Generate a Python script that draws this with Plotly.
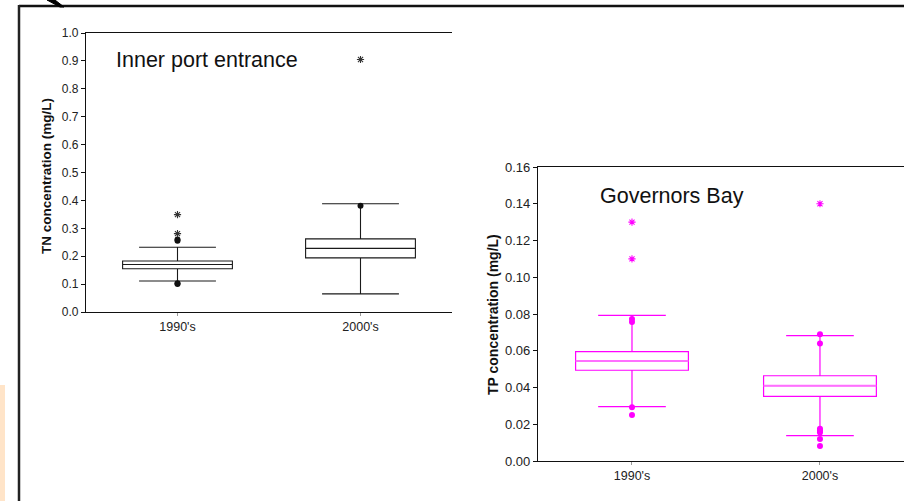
import plotly.graph_objects as go

W, H = 904, 501

periods = ["1990's", "2000's"]
period_pos = [0, 1]

# TN (Inner port entrance)
tn_q1 = [0.155, 0.194]
tn_median = [0.170, 0.228]
tn_q3 = [0.183, 0.262]
tn_lower = [0.111, 0.065]
tn_upper = [0.232, 0.388]
tn_dot_x = [0, 0, 0, 0, 1]
tn_dot_y = [0.255, 0.260, 0.103, 0.100, 0.381]
tn_star_x = [0, 0, 1]
tn_star_y = [0.349, 0.281, 0.905]

# TP (Governors Bay)
tp_q1 = [0.0494, 0.0352]
tp_median = [0.0544, 0.0410]
tp_q3 = [0.0595, 0.0464]
tp_lower = [0.0296, 0.0138]
tp_upper = [0.0793, 0.0682]
tp_dot_x = [0, 0, 0, 0, 1, 1, 1, 1, 1, 1, 1]
tp_dot_y = [0.0773, 0.0757, 0.0292, 0.0250, 0.0690, 0.0640, 0.0175, 0.0165, 0.0155, 0.0120, 0.0082]
tp_star_x = [0, 0, 1]
tp_star_y = [0.130, 0.110, 0.140]

BOX_WIDTH = 0.6
FONT = "Liberation Sans, Arial, sans-serif"
MAG = "#FF00FF"

fig = go.Figure()

# Left chart: TN
fig.add_trace(go.Box(x=period_pos, q1=tn_q1, median=tn_median, q3=tn_q3,
                     lowerfence=tn_lower, upperfence=tn_upper,
                     boxpoints=False, width=BOX_WIDTH, whiskerwidth=0.7,
                     fillcolor="white", line=dict(color="#1a1a1a", width=1.1),
                     xaxis="x", yaxis="y", showlegend=False, hoverinfo="skip"))
fig.add_trace(go.Scatter(x=tn_dot_x, y=tn_dot_y, mode="markers",
                         marker=dict(symbol="circle", size=6, color="#111111"),
                         xaxis="x", yaxis="y", showlegend=False))
fig.add_trace(go.Scatter(x=tn_star_x, y=tn_star_y, mode="markers",
                         marker=dict(symbol="asterisk-open", size=6, color="#333333",
                                     line=dict(color="#333333", width=1.1)),
                         xaxis="x", yaxis="y", showlegend=False))

# Right chart: TP
fig.add_trace(go.Box(x=period_pos, q1=tp_q1, median=tp_median, q3=tp_q3,
                     lowerfence=tp_lower, upperfence=tp_upper,
                     boxpoints=False, width=BOX_WIDTH, whiskerwidth=0.6,
                     fillcolor="white", line=dict(color=MAG, width=1.2),
                     xaxis="x2", yaxis="y2", showlegend=False, hoverinfo="skip"))
# lighter, thicker median lines as in the original
med_x, med_y = [], []
for p, m in zip(period_pos, tp_median):
    med_x += [p - BOX_WIDTH / 2, p + BOX_WIDTH / 2, None]
    med_y += [m, m, None]
fig.add_trace(go.Scatter(x=med_x, y=med_y, mode="lines",
                         line=dict(color="#FF70FF", width=2),
                         xaxis="x2", yaxis="y2", showlegend=False, hoverinfo="skip"))
fig.add_trace(go.Scatter(x=tp_dot_x, y=tp_dot_y, mode="markers",
                         marker=dict(symbol="circle", size=6, color=MAG),
                         xaxis="x2", yaxis="y2", showlegend=False))
fig.add_trace(go.Scatter(x=tp_star_x, y=tp_star_y, mode="markers",
                         marker=dict(symbol="asterisk-open", size=6, color=MAG,
                                     line=dict(color=MAG, width=1.1)),
                         xaxis="x2", yaxis="y2", showlegend=False))

def px_x(v):
    return v / W

def px_y(v):
    return 1 - v / H

axis_common = dict(showgrid=False, zeroline=False, showline=True,
                   automargin=False, linecolor="#111111", linewidth=1.2)

xtick_font = dict(family=FONT, size=12.5, color="#222222")

fig.update_layout(
    template="none",
    width=W, height=H,
    margin=dict(l=0, r=0, t=0, b=0, pad=0, autoexpand=False),
    showlegend=False,
    paper_bgcolor="white", plot_bgcolor="white",
    font=dict(family=FONT, color="#222222"),
    xaxis=dict(domain=[px_x(86), px_x(452)], range=[-0.5, 1.5],
               tickvals=period_pos, ticktext=periods, ticks="outside",
               ticklen=3, tickcolor="#999999", mirror=True, anchor="y",
               tickfont=xtick_font, **axis_common),
    yaxis=dict(domain=[px_y(312), px_y(33)], range=[0, 1.0], dtick=0.1,
               tickformat=".1f", ticks="outside", ticklen=4,
               tickcolor="#111111", anchor="x",
               tickfont=dict(family=FONT, size=12, color="#222222"),
               **axis_common),
    xaxis2=dict(domain=[px_x(538), 1.0], range=[-0.5, 1.447],
                tickvals=period_pos, ticktext=periods, ticks="outside",
                ticklen=3, tickcolor="#999999", mirror=True, anchor="y2",
                tickfont=xtick_font, **axis_common),
    yaxis2=dict(domain=[px_y(461), px_y(167)], range=[0, 0.16], dtick=0.02,
                tickformat=".2f", ticks="outside", ticklen=4,
                tickcolor="#111111", anchor="x2",
                tickfont=dict(family=FONT, size=13, color="#222222"),
                **axis_common),
)

annotations = [
    dict(text="Inner port entrance", x=px_x(114), y=px_y(60), xref="paper",
         yref="paper", xanchor="left", yanchor="middle", showarrow=False,
         font=dict(family=FONT, size=21.5, color="#111111")),
    dict(text="Governors Bay", x=px_x(598), y=px_y(196), xref="paper",
         yref="paper", xanchor="left", yanchor="middle", showarrow=False,
         font=dict(family=FONT, size=21.5, color="#111111")),
    dict(text="<b>TN concentration (mg/L)</b>", x=px_x(47), y=px_y(176),
         xref="paper", yref="paper", xanchor="center", yanchor="middle",
         textangle=-90, showarrow=False,
         font=dict(family=FONT, size=13.5, color="#111111")),
    dict(text="<b>TP concentration (mg/L)</b>", x=px_x(493), y=px_y(315),
         xref="paper", yref="paper", xanchor="center", yanchor="middle",
         textangle=-90, showarrow=False,
         font=dict(family=FONT, size=14, color="#111111")),
]
fig.update_layout(annotations=annotations)

shapes = [
    # outer frame (top and left)
    dict(type="line", xref="paper", yref="paper", x0=px_x(19), x1=1.0,
         y0=px_y(6), y1=px_y(6), line=dict(color="#111111", width=2.5)),
    dict(type="line", xref="paper", yref="paper", x0=px_x(19), x1=px_x(19),
         y0=px_y(5), y1=0, line=dict(color="#222222", width=2.5)),
    # arrow tip at the top
    dict(type="path", xref="paper", yref="paper",
         path="M {} {} L {} {} L {} {} L {} {} Z".format(
             px_x(47), px_y(0), px_x(55), px_y(0), px_x(64), px_y(7),
             px_x(60), px_y(7)),
         fillcolor="#000000", line=dict(color="#000000", width=1)),
    # peach strip on the left edge
    dict(type="rect", xref="paper", yref="paper", x0=0, x1=px_x(5),
         y0=0, y1=px_y(385), fillcolor="#FFE4C8", line=dict(width=0)),
]
fig.update_layout(shapes=shapes)

fig.write_html("out.html")
